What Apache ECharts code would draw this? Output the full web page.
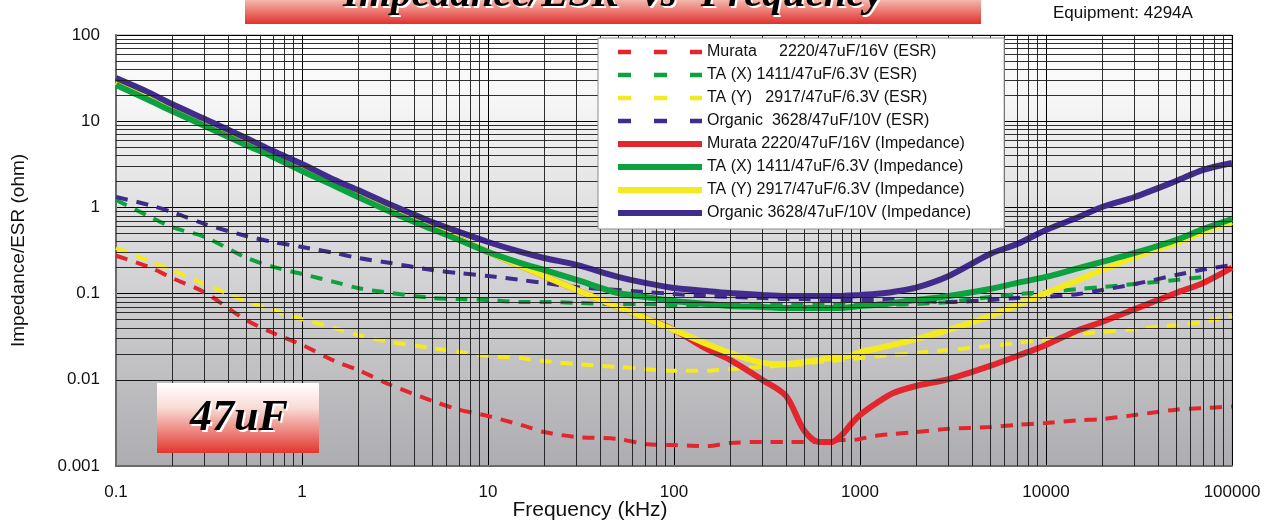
<!DOCTYPE html>
<html>
<head>
<meta charset="utf-8">
<title>Impedance/ESR -vs- Frequency</title>
<script src="https://cdn.jsdelivr.net/npm/echarts@6/dist/echarts.min.js"></script>
<style>
  html, body { margin: 0; padding: 0; background: #fff; }
  #chart { width: 1278px; height: 523px; }
</style>
</head>
<body>
<div id="chart"></div>
<script>
  // frequency points (kHz), shared by every curve
  var freq = [0.1, 0.15, 0.2, 0.3, 0.5, 0.7, 1, 1.5, 2, 3, 5, 7, 10, 15, 20, 30, 50, 70,
    100, 150, 200, 300, 400, 500, 600, 700, 800, 900, 1000, 1200, 1500, 2000, 3000, 5000,
    7000, 10000, 15000, 20000, 30000, 50000, 70000, 100000];

  // ESR (ohm)
  var murataEsr = [0.275, 0.204, 0.152, 0.103, 0.0494, 0.0349, 0.0254, 0.0165, 0.013, 0.0087, 0.0057, 0.0045,
    0.0038, 0.003, 0.00248, 0.00217, 0.00206, 0.0018, 0.00175, 0.0017, 0.00185, 0.0019, 0.0019, 0.0019,
    0.0019, 0.00195, 0.002, 0.002, 0.00206, 0.00223, 0.00235, 0.00248, 0.0027, 0.00283, 0.003, 0.00315,
    0.0034, 0.0035, 0.0039, 0.0045, 0.0047, 0.0049];
  var taXEsr = [1.22, 0.79, 0.59, 0.454, 0.262, 0.204, 0.169, 0.136, 0.116, 0.1016, 0.089, 0.0865,
    0.0843, 0.08, 0.08, 0.078, 0.0757, 0.0757, 0.0738, 0.0738, 0.0738, 0.0738, 0.0738, 0.0738,
    0.0738, 0.0738, 0.0738, 0.0738, 0.0738, 0.0738, 0.0745, 0.0757, 0.08, 0.0914, 0.0989, 0.1044,
    0.113, 0.119, 0.129, 0.144, 0.156, null];
  var taYEsr = [0.338, 0.239, 0.188, 0.129, 0.082, 0.0645, 0.0507, 0.0399, 0.0331, 0.0275, 0.0234, 0.021,
    0.0189, 0.0179, 0.0165, 0.0152, 0.0141, 0.0133, 0.0127, 0.0127, 0.0133, 0.0141, 0.0148, 0.0152,
    0.0161, 0.0165, 0.017, 0.0175, 0.0179, 0.0186, 0.0194, 0.0205, 0.0222, 0.0247, 0.0267, 0.0297,
    0.034, 0.0359, 0.0388, 0.0432, 0.0469, 0.055];
  var organicEsr = [1.32, 1.07, 0.885, 0.641, 0.466, 0.397, 0.347, 0.296, 0.259, 0.226, 0.188, 0.173,
    0.16, 0.144, 0.133, 0.119, 0.11, 0.104, 0.099, 0.094, 0.0916, 0.089, 0.0865, 0.0865,
    0.0843, 0.0843, 0.0843, 0.0843, 0.0843, 0.0843, 0.0843, 0.082, 0.08, 0.0843, 0.089, 0.0916,
    0.099, 0.11, 0.129, 0.164, 0.19, 0.215];

  // impedance (ohm)
  var murataZ = [28.5, 19.1, 14.2, 9.5, 5.74, 4.06, 2.86, 1.92, 1.43, 0.957, 0.593, 0.43,
    0.304, 0.209, 0.16, 0.11, 0.07, 0.052, 0.0379, 0.0228, 0.017, 0.0099, 0.0065, 0.0026,
    0.0019, 0.0019, 0.0023, 0.0031, 0.0039, 0.0052, 0.007, 0.00848, 0.0102, 0.0145, 0.0189, 0.0254,
    0.0379, 0.0469, 0.066, 0.1016, 0.133, 0.2];
  var taXZ = [26.3, 17.6, 13.1, 8.8, 5.3, 3.84, 2.64, 1.77, 1.32, 0.885, 0.561, 0.419,
    0.304, 0.226, 0.188, 0.144, 0.1016, 0.0914, 0.082, 0.0757, 0.0718, 0.07, 0.068, 0.068,
    0.068, 0.068, 0.068, 0.07, 0.0718, 0.0738, 0.0778, 0.0843, 0.094, 0.113, 0.133, 0.156,
    0.198, 0.233, 0.296, 0.419, 0.561, 0.733];
  var taYZ = [28.5, 19.1, 14.2, 9.5, 5.74, 4.06, 2.86, 1.92, 1.43, 0.957, 0.593, 0.43,
    0.304, 0.209, 0.16, 0.11, 0.07, 0.052, 0.0379, 0.026, 0.0205, 0.0157, 0.0152, 0.0161,
    0.017, 0.0179, 0.0184, 0.0192, 0.021, 0.0228, 0.0254, 0.0297, 0.0379, 0.055, 0.0738, 0.1016,
    0.144, 0.188, 0.266, 0.386, 0.519, 0.677];
  var organicZ = [31.7, 21.6, 15.8, 10.6, 6.38, 4.51, 3.19, 2.08, 1.59, 1.07, 0.677, 0.519,
    0.397, 0.304, 0.259, 0.215, 0.156, 0.133, 0.116, 0.107, 0.1016, 0.0964, 0.094, 0.094,
    0.094, 0.094, 0.094, 0.0952, 0.0964, 0.099, 0.1044, 0.117, 0.16, 0.288, 0.376, 0.547,
    0.774, 1.01, 1.32, 2.02, 2.72, 3.27];

  var xTickLabels = ['0.1', '1', '10', '100', '1000', '10000', '100000'];
  var yTickLabels = ['0.001', '0.01', '0.1', '1', '10', '100'];

  var names = [
    'Murata     2220/47uF/16V (ESR)',
    'TA (X) 1411/47uF/6.3V (ESR)',
    'TA (Y)   2917/47uF/6.3V (ESR)',
    'Organic  3628/47uF/10V (ESR)',
    'Murata 2220/47uF/16V (Impedance)',
    'TA (X) 1411/47uF/6.3V (Impedance)',
    'TA (Y) 2917/47uF/6.3V (Impedance)',
    'Organic 3628/47uF/10V (Impedance)'
  ];
  var RED = '#e3262d', GREEN = '#0ba23f', YELLOW = '#f5ea1e', PURPLE = '#412c8d';

  function pairs(values) {
    var out = [];
    freq.forEach(function (f, i) {
      if (values[i] != null) out.push([f, values[i]]);
    });
    return out;
  }

  // log grid 2..9 lines inside each decade
  function minor(lo, hi) {
    var out = [];
    for (var e = lo; e < hi; e++) {
      for (var k = 2; k <= 9; k++) out.push(k * Math.pow(10, e));
    }
    return out;
  }

  function esrSeries(name, color, values) {
    return {
      name: name, type: 'line', data: pairs(values), symbol: 'none', smooth: 0.3, z: 3,
      lineStyle: {color: color, width: 4, type: [12, 9], cap: 'butt'},
      itemStyle: {color: color}
    };
  }
  function zSeries(name, color, values) {
    return {
      name: name, type: 'line', data: pairs(values), symbol: 'none', smooth: 0.3, z: 4,
      lineStyle: {color: color, width: 6},
      itemStyle: {color: color}
    };
  }

  var chart = echarts.init(document.getElementById('chart'));

  var gridLines = {
    name: 'grid', type: 'line', data: [], silent: true, z: 2,
    markLine: {
      silent: true, animation: false, symbol: ['none', 'none'], label: {show: false},
      lineStyle: {color: '#1a1a1a', width: 1, type: 'solid', opacity: 0.9},
      data: minor(-1, 5).map(function (v) { return {xAxis: v}; })
        .concat(minor(-3, 2).map(function (v) { return {yAxis: v}; }))
    }
  };

  var option = {
    animation: false,
    backgroundColor: '#fff',
    textStyle: {fontFamily: '"Liberation Sans", Arial, sans-serif'},
    grid: {
      left: 116, right: 46, top: 35, bottom: 57,
      show: true, borderColor: '#9a9a9a', borderWidth: 1,
      backgroundColor: new echarts.graphic.LinearGradient(0, 0, 0, 1, [
        {offset: 0, color: '#ffffff'},
        {offset: 0.15, color: '#f6f6f6'},
        {offset: 1, color: '#adadb1'}
      ])
    },
    legend: {
      orient: 'vertical', left: 598, top: 38, z: 20,
      itemWidth: 84, itemHeight: 12, itemGap: 7,
      padding: [6, 33, 8, 17],
      backgroundColor: '#fff', borderColor: '#8a8a8a', borderWidth: 1,
      selectedMode: false,
      itemStyle: {opacity: 0},
      textStyle: {fontSize: 16, color: '#111', fontFamily: '"Liberation Sans", Arial, sans-serif'},
      data: names.map(function (n, i) {
        return i < 4
          ? {name: n, lineStyle: {type: [13, 23], width: 4.5, cap: 'butt'}}
          : {name: n, lineStyle: {type: 'solid', width: 6}};
      })
    },
    xAxis: {
      type: 'log', logBase: 10, min: 0.1, max: 100000, splitNumber: 6,
      axisLine: {show: true, lineStyle: {color: '#6a6a6a', width: 2}},
      axisTick: {show: false},
      axisLabel: {
        margin: 18, fontSize: 17, color: '#111',
        formatter: function (v) { return xTickLabels[Math.round(Math.log10(v)) + 1]; }
      },
      splitLine: {show: true, lineStyle: {color: '#000', width: 1}}
    },
    yAxis: {
      type: 'log', logBase: 10, min: 0.001, max: 100, splitNumber: 5,
      name: 'Impedance/ESR (ohm)', nameLocation: 'middle', nameGap: 88,
      nameTextStyle: {fontSize: 19, color: '#111'},
      axisLine: {show: true, lineStyle: {color: '#6a6a6a', width: 2}},
      axisTick: {show: false},
      axisLabel: {
        margin: 16, fontSize: 17, color: '#111',
        formatter: function (v) { return yTickLabels[Math.round(Math.log10(v)) + 3]; }
      },
      splitLine: {show: true, lineStyle: {color: '#000', width: 1}}
    },
    graphic: [
      {
        type: 'rect', left: 245, top: 0, z: 10,
        shape: {width: 736, height: 24},
        style: {fill: new echarts.graphic.LinearGradient(0, 0, 0, 1, [
          {offset: 0, color: '#f3b8ad'},
          {offset: 1, color: '#e1302c'}
        ])}
      },
      {
        type: 'text', x: 615, y: -3, z: 11,
        style: {text: 'Impedance/ESR -vs- Frequency', font: 'italic bold 41px "Liberation Serif"',
          fill: '#fff', align: 'center', verticalAlign: 'middle'}
      },
      {
        type: 'text', x: 613, y: -5, z: 12,
        style: {text: 'Impedance/ESR -vs- Frequency', font: 'italic bold 41px "Liberation Serif"',
          fill: '#000', align: 'center', verticalAlign: 'middle'}
      },
      {
        type: 'text', x: 1053, y: 13, z: 10,
        style: {text: 'Equipment: 4294A', font: '17px "Liberation Sans"', fill: '#111',
          align: 'left', verticalAlign: 'middle'}
      },
      {
        type: 'rect', left: 157, top: 383, z: 10,
        shape: {width: 162, height: 70},
        style: {fill: new echarts.graphic.LinearGradient(0, 0, 0, 1, [
          {offset: 0, color: '#ffffff'},
          {offset: 0.35, color: '#f9dcd6'},
          {offset: 1, color: '#e2362f'}
        ])}
      },
      {
        type: 'text', x: 241, y: 421, z: 11,
        style: {text: '47uF', font: 'italic bold 44px "Liberation Serif"', fill: '#fff',
          align: 'center', verticalAlign: 'middle'}
      },
      {
        type: 'text', x: 239, y: 419, z: 12,
        style: {text: '47uF', font: 'italic bold 44px "Liberation Serif"', fill: '#000',
          align: 'center', verticalAlign: 'middle'}
      },
      {
        type: 'text', x: 590, y: 510, z: 10,
        style: {text: 'Frequency (kHz)', font: '21px "Liberation Sans"', fill: '#111',
          align: 'center', verticalAlign: 'middle'}
      }
    ],
    series: [
      gridLines,
      esrSeries(names[0], RED, murataEsr),
      esrSeries(names[1], GREEN, taXEsr),
      esrSeries(names[2], YELLOW, taYEsr),
      esrSeries(names[3], PURPLE, organicEsr),
      zSeries(names[4], RED, murataZ),
      zSeries(names[6], YELLOW, taYZ),
      zSeries(names[5], GREEN, taXZ),
      zSeries(names[7], PURPLE, organicZ)
    ]
  };

  chart.setOption(option);
</script>
</body>
</html>
